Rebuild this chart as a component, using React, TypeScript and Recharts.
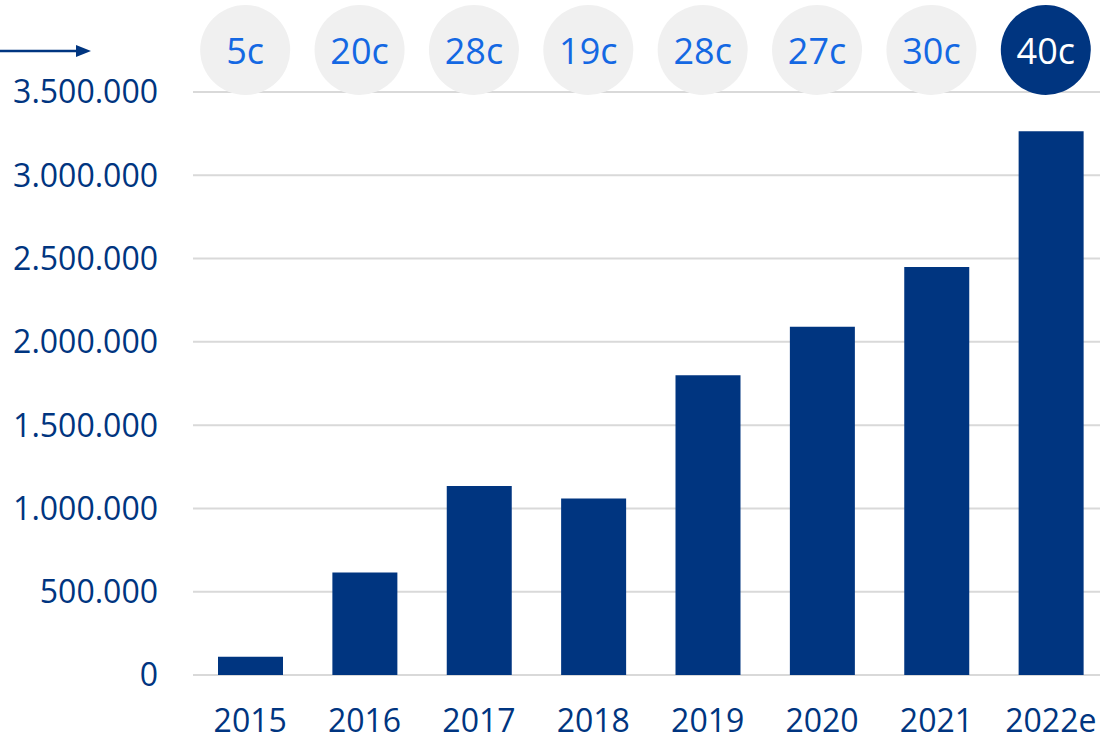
import React from "react";
import { BarChart, Bar, XAxis, YAxis, CartesianGrid } from "recharts";

const years = ["2015", "2016", "2017", "2018", "2019", "2020", "2021", "2022e"];
const values = [110000, 615000, 1135000, 1060000, 1800000, 2090000, 2450000, 3265000];
const badges = ["5c", "20c", "28c", "19c", "28c", "27c", "30c", "40c"];
const yTicks = [0, 500000, 1000000, 1500000, 2000000, 2500000, 3000000, 3500000];

const NAVY = "#003580";
const FONT = "'Open Sans', sans-serif";

const data = years.map((year, i) => ({ year, value: values[i], badge: badges[i] }));

const fmt = (v: number) => String(v).replace(/\B(?=(\d{3})+(?!\d))/g, ".");

// circles above the plot, placed on the top axis band centres (sit a touch left of the bars)
const BadgeTick = (props: any) => {
  const { x, payload, index } = props;
  const last = index === years.length - 1;
  const cx = x - 5;
  return (
    <g>
      <circle cx={cx} cy={50} r={45} fill={last ? NAVY : "#f0f0f0"} />
      <text
        x={cx}
        y={50}
        textAnchor="middle"
        dominantBaseline="central"
        fontSize={36}
        fontFamily={FONT}
        fill={last ? "#ffffff" : "#1468e3"}
      >
        {badges[years.indexOf(payload.value)]}
      </text>
    </g>
  );
};

export default function App() {
  return (
    <div style={{ position: "absolute", left: 0, top: 0, width: 1100, height: 739, overflow: "hidden", background: "#fff" }}>
      <svg width={100} height={70} style={{ position: "absolute", left: 0, top: 0 }}>
        <line x1={0} y1={51} x2={78} y2={51} stroke={NAVY} strokeWidth={2.5} />
        <polygon points="76,45 91,51 76,57" fill={NAVY} />
      </svg>
      <BarChart
        width={1108}
        height={739}
        data={data}
        margin={{ top: 0, right: 0, left: 0, bottom: 0 }}
        barSize={65}
      >
        <CartesianGrid vertical={false} stroke="#d9d9d9" strokeWidth={2} />
        <XAxis
          xAxisId="top"
          orientation="top"
          dataKey="year"
          height={92}
          axisLine={false}
          tickLine={false}
          tick={<BadgeTick />}
          interval={0}
        />
        <XAxis
          dataKey="year"
          height={64}
          axisLine={false}
          tickLine={false}
          tickMargin={28}
          interval={0}
          tick={{ fill: NAVY, fontSize: 32, fontFamily: FONT }}
        />
        <YAxis
          width={193}
          domain={[0, 3500000]}
          ticks={yTicks}
          axisLine={false}
          tickLine={false}
          tickMargin={29}
          tickFormatter={fmt}
          tick={{ fill: NAVY, fontSize: 32, fontFamily: FONT }}
        />
        <Bar dataKey="value" fill={NAVY} isAnimationActive={false} />
      </BarChart>
    </div>
  );
}
